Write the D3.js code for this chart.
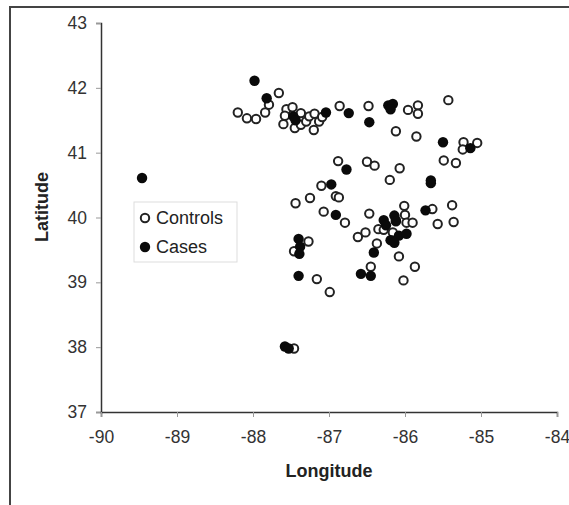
<!DOCTYPE html>
<html><head><meta charset="utf-8">
<script src="https://cdn.jsdelivr.net/npm/d3@7"></script>
<style>body{margin:0;background:#fff}svg{display:block}text{font-family:"Liberation Sans",Arial,sans-serif}</style>
</head><body><svg id="c" width="569" height="505"></svg>
<script>
const xTicks = [-90,-89,-88,-87,-86,-85,-84];
const yTicks = [37,38,39,40,41,42,43];
const controlsLon = [-88.20,-88.08,-87.96,-87.84,-87.79,-87.66,-87.60,-87.56,-87.48,-87.58,-87.45,-87.37,-87.37,-87.30,-87.26,-87.19,-87.20,-87.13,-87.09,
 -86.86,-86.48,-86.12,-85.96,-85.83,-85.83,-85.85,-85.43,
 -85.23,-85.24,-85.05,-85.49,-85.33,-85.64,-85.38,-85.57,-85.36,
 -86.88,-86.50,-86.40,-86.07,-86.20,-87.10,-86.91,-86.87,-87.25,-87.44,-87.07,-86.79,-86.47,-86.01,-86.00,-85.98,-85.90,-86.62,-86.52,-86.35,-86.37,-86.16,-86.12,-86.08,-86.45,-85.87,-86.02,-87.16,-86.99,-87.27,-87.46,-87.46,-86.28];
const controlsLat = [41.62,41.53,41.52,41.62,41.74,41.92,41.44,41.67,41.70,41.57,41.38,41.61,41.43,41.48,41.56,41.60,41.35,41.48,41.55,
 41.72,41.72,41.33,41.66,41.73,41.60,41.25,41.81,
 41.16,41.05,41.15,40.88,40.84,40.13,40.19,39.90,39.93,
 40.87,40.86,40.80,40.76,40.58,40.49,40.33,40.31,40.30,40.22,40.09,39.92,40.06,40.18,40.04,39.92,39.92,39.70,39.77,39.82,39.60,39.77,39.96,39.40,39.24,39.24,39.03,39.05,38.85,39.63,39.48,37.98,39.81];
const casesLon = [-89.46,-87.98,-87.82,-87.47,-87.44,-87.04,-86.74,-86.47,-86.22,-86.16,-86.19,-85.50,-85.14,-86.77,-86.97,-85.66,-85.66,-86.91,-85.73,-86.28,-86.25,-86.14,-86.12,-86.19,-86.08,-85.98,-86.14,-86.41,-87.40,-87.38,-87.39,-87.40,-86.58,-86.45,-87.58,-87.53];
const casesLat = [40.61,42.11,41.84,41.56,41.50,41.62,41.61,41.47,41.73,41.75,41.67,41.16,41.07,40.74,40.51,40.57,40.53,40.04,40.11,39.96,39.88,40.03,39.94,39.65,39.72,39.75,39.61,39.46,39.67,39.55,39.44,39.10,39.13,39.10,38.01,37.98];
const legendLabels = ["Controls","Cases"];

const svg = d3.select("#c");
const x = d3.scaleLinear().domain([-90,-84]).range([101,557]);
const y = d3.scaleLinear().domain([37,43]).range([412,23]);

svg.append("rect").attr("x",10).attr("y",7).attr("width",700).attr("height",700)
  .attr("fill","none").attr("stroke","#444").attr("stroke-width",2);

const ya = svg.append("g").attr("transform","translate(101,0)")
  .call(d3.axisLeft(y).tickValues(yTicks).tickFormat(d3.format("d")).tickSize(5).tickPadding(9));
const xa = svg.append("g").attr("transform","translate(0,412)")
  .call(d3.axisBottom(x).tickValues(xTicks).tickFormat(d3.format("d")).tickSize(5).tickPadding(14));
[ya,xa].forEach(a=>{
  a.select(".domain").attr("stroke","#333").attr("stroke-width",1.5);
  a.selectAll(".tick line").attr("stroke","#999");
  a.selectAll(".tick text").attr("font-size",17.5).attr("fill","#333").attr("font-family","Liberation Sans, Arial, sans-serif");
});
xa.selectAll(".tick text").text(d=>String(d));

svg.append("text").attr("x",329).attr("y",477).attr("text-anchor","middle")
  .attr("font-size",18).attr("font-weight","bold").attr("fill","#222").text("Longitude");
svg.append("text").attr("transform","translate(42,207) rotate(-90)").attr("text-anchor","middle")
  .attr("dy","0.35em").attr("font-size",18).attr("font-weight","bold").attr("fill","#222").text("Latitude");

const controls = controlsLon.map((v,i)=>({lon:v,lat:controlsLat[i]}));
const cases = casesLon.map((v,i)=>({lon:v,lat:casesLat[i]}));

svg.append("g").selectAll("circle").data(controls).join("circle")
  .attr("cx",d=>x(d.lon)).attr("cy",d=>y(d.lat)).attr("r",4.2)
  .attr("fill","#fff").attr("stroke","#222").attr("stroke-width",2);
svg.append("g").selectAll("circle").data(cases).join("circle")
  .attr("cx",d=>x(d.lon)).attr("cy",d=>y(d.lat)).attr("r",5.2)
  .attr("fill","#0a0a0a");

const lg = svg.append("g");
lg.append("rect").attr("x",134).attr("y",202).attr("width",103).attr("height",60)
  .attr("fill","#fff").attr("stroke","#ddd").attr("stroke-width",1);
legendLabels.forEach((t,i)=>{
  const cy = 218 + i*29;
  const c = lg.append("circle").attr("cx",145).attr("cy",cy);
  if(i===0) c.attr("r",4.2).attr("fill","#fff").attr("stroke","#222").attr("stroke-width",2);
  else c.attr("r",5.2).attr("fill","#0a0a0a");
  lg.append("text").attr("x",156).attr("y",cy).attr("dy","0.36em").attr("font-size",18).attr("fill","#222").text(t);
});
</script></body></html>
